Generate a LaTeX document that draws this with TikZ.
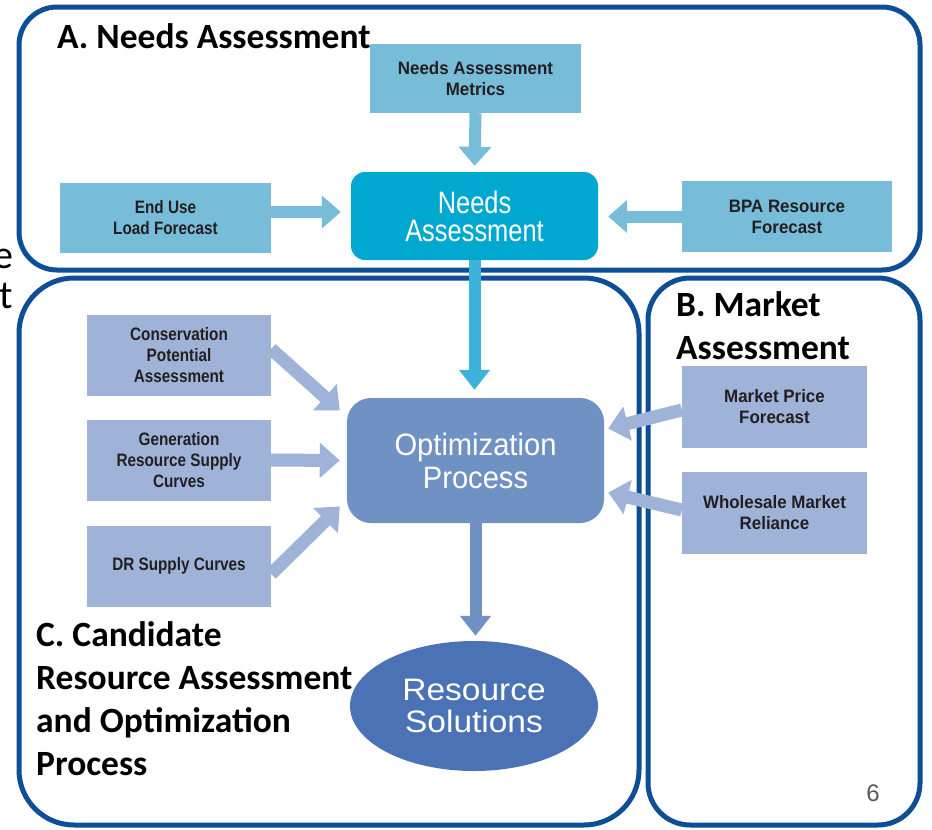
\documentclass[tikz,border=0pt]{standalone}
\usepackage{fontspec}
\setmainfont{Carlito}
\newfontfamily\cndL[FakeStretch=0.85]{Liberation Sans Bold}
\newfontfamily\cndR[FakeStretch=0.94]{Liberation Sans Bold}
\newfontfamily\cndN[FakeStretch=0.82]{Liberation Sans}
\newfontfamily\cndO[FakeStretch=0.94]{Liberation Sans}
\newfontfamily\cndW[FakeStretch=1.08]{Liberation Sans}
\usetikzlibrary{arrows.meta,shapes.geometric,calc}
\definecolor{frameblue}{RGB}{14,78,150}
\definecolor{lblue}{HTML}{77BDDA}
\definecolor{nablue}{HTML}{00A8CF}
\definecolor{nadown}{HTML}{3DB3DC}
\definecolor{peri}{HTML}{9FB3D9}
\definecolor{optblue}{HTML}{6F91C4}
\definecolor{rsblue}{HTML}{4B72B4}
\definecolor{txtdark}{HTML}{231F20}
\definecolor{pgnum}{HTML}{595959}
\tikzset{
  frame/.style={draw=frameblue, line width=5pt},
  lbl/.style={font=\fontsize{35.5}{43}\selectfont\bfseries, inner sep=0pt, align=left, text=black},
  smallbox/.style={inner sep=0pt, align=center, text=txtdark, font=\cndL\fontsize{18}{21}\selectfont},
  rsmall/.style={font=\cndR\fontsize{18}{21}\selectfont},
  topbox/.style={smallbox, fill=lblue},
  pbox/.style={smallbox, fill=peri, minimum width=184pt, minimum height=81pt},
  bigtxt/.style={inner sep=0pt, align=center, text=white},
  arrTop/.style={draw=lblue, line width=12pt, -{Triangle[length=19pt,width=32pt]}},
  arrNA/.style={draw=nadown, line width=12pt, -{Triangle[length=20pt,width=30pt]}},
  arrP/.style={draw=peri, line width=13pt, -{Triangle[length=20pt,width=34pt]}},
  arrOpt/.style={draw=optblue, line width=12pt, -{Triangle[length=20pt,width=30pt]}}
}
\begin{document}
\begin{tikzpicture}[x=1pt,y=-1pt]
\path[use as bounding box, fill=white] (0,0) rectangle (932,830);

% frames
\draw[frame, rounded corners=38pt] (19,7) rectangle (920,270);
\draw[frame, rounded corners=55pt] (19,278) rectangle (639,825);
\draw[frame, rounded corners=42pt] (648,278) rectangle (920,825);

% cut-off text at left edge
\node[inner sep=0pt, anchor=base east, font=\fontsize{40}{40}\selectfont] (fe) at (14,268) {e};
\node[inner sep=0pt, anchor=base east, font=\fontsize{40}{40}\selectfont] (ft) at (13,308) {t};

% section labels
\node[lbl, anchor=base west] (la) at (57,48) {A. Needs Assessment};
\node[lbl, anchor=north west] (lb) at (676,291) {B. Market\\Assessment};
\node[lbl, anchor=north west] (lc) at (36,621) {C. Candidate\\Resource Assessment\\and Optimization\\Process};

% top section
\node[topbox, rsmall, minimum width=211pt, minimum height=69pt] (met) at (475.5,78.5) {Needs Assessment\\Metrics};
\node[bigtxt, fill=nablue, rounded corners=14pt, minimum width=247pt, minimum height=88pt, font=\cndN\fontsize{31}{28}\selectfont] (na) at (474.5,216) {Needs\\Assessment};
\node[topbox, minimum width=211pt, minimum height=70pt] (eu) at (165.5,218) {End Use\\Load Forecast};
\node[topbox, rsmall, minimum width=210pt, minimum height=71pt] (bpa) at (787,216.5) {BPA Resource\\Forecast};

% middle
\node[bigtxt, fill=optblue, rounded corners=24pt, minimum width=257pt, minimum height=125pt, font=\cndO\fontsize{31}{33}\selectfont] (opt) at (475.5,460.5) {Optimization\\Process};
\node[pbox] (cons) at (179,355) {Conservation\\Potential\\Assessment};
\node[pbox] (gen) at (179,460) {Generation\\Resource Supply\\Curves};
\node[pbox] (dr) at (179,566) {DR Supply Curves};
\node[pbox, rsmall, minimum width=185pt, minimum height=82pt] (mp) at (774.5,407) {Market Price\\Forecast};
\node[pbox, rsmall, minimum width=185pt, minimum height=82pt] (wm) at (774.5,513) {Wholesale Market\\Reliance};
\node[bigtxt, ellipse, fill=rsblue, minimum width=248pt, minimum height=130pt, font=\cndW\fontsize{31}{32}\selectfont] (rs) at (474,706) {Resource\\Solutions};

% page number
\node[inner sep=0pt, text=pgnum, font=\fontspec{Liberation Sans}\fontsize{24}{24}\selectfont] (pg) at (873,793) {6};

% arrow tip coordinates
\coordinate (tcons) at ($(opt.west)+(-7,-50)$);
\coordinate (tgen) at ($(opt.west)+(-7,0)$);
\coordinate (tdr) at ($(opt.west)+(-7,46)$);
\coordinate (tmp) at ($(opt.east)+(4,-32)$);
\coordinate (twm) at ($(opt.east)+(4,32)$);

% arrows
\draw[arrTop, shorten >=6pt] (met.south) -- (na.north);
\draw[arrTop, shorten >=10pt] ($(eu.east)+(0,-6)$) -- ($(eu.east -| na.west)+(0,-6)$);
\draw[arrTop, shorten >=10pt] (bpa.west) -- (bpa.west -| na.east);
\draw[arrNA, shorten >=8pt] (na.south) -- (na.south |- opt.north);
\draw[arrOpt, shorten >=5pt] (opt.south) -- (opt.south |- rs.north);
\draw[arrP] ($(cons.east)+(0,-6)$) -- (tcons);
\draw[arrP] (gen.east) -- (tgen);
\draw[arrP] ($(dr.east)+(0,8)$) -- (tdr);
\draw[arrP] ($(mp.west)+(0,3)$) -- (tmp);
\draw[arrP] ($(wm.west)+(0,-3)$) -- (twm);
\end{tikzpicture}
\end{document}
